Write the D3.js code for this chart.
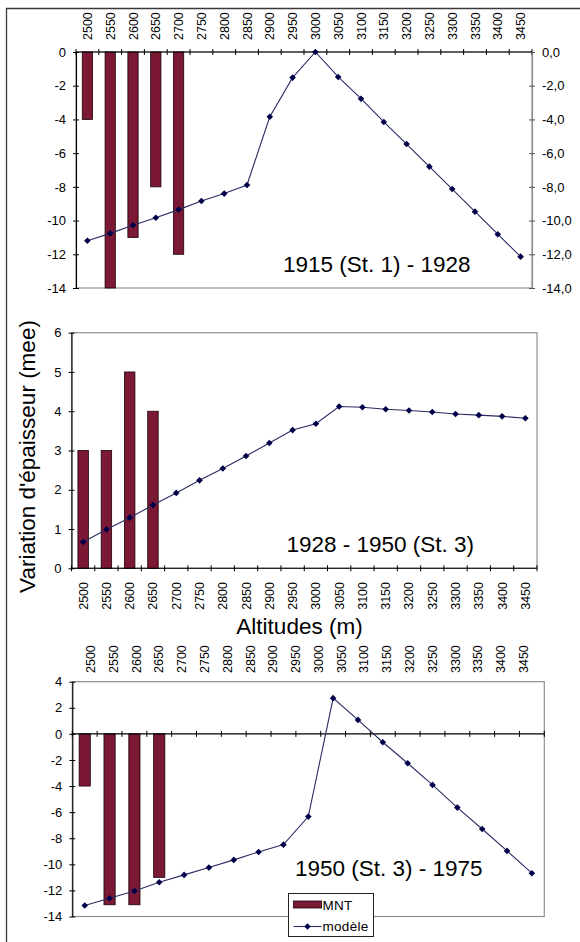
<!DOCTYPE html>
<html><head><meta charset="utf-8">
<script src="https://cdn.jsdelivr.net/npm/d3@7"></script>
<style>
body{margin:0;background:#fff}
svg{display:block}
text{font-family:Arial,"Liberation Sans",sans-serif;fill:#000}
</style>
</head><body>
<svg id="c" width="580" height="942"></svg>
<script>
// ---------- DATA ----------
const altitudes = ["2500","2550","2600","2650","2700","2750","2800","2850","2900","2950",
                   "3000","3050","3100","3150","3200","3250","3300","3350","3400","3450"];

// Panel 1 : 1915 (St. 1) - 1928
const mnt1    = [-4, -14, -11, -8, -12];
const modele1 = [-11.2, -10.76, -10.28, -9.83, -9.35, -8.84, -8.4, -7.89, -3.84, -1.52,
                 0, -1.48, -2.77, -4.15, -5.46, -6.8, -8.13, -9.47, -10.81, -12.14];
const yTicks1 = [0, -2, -4, -6, -8, -10, -12, -14];

// Panel 2 : 1928 - 1950 (St. 3)
const mnt2    = [3, 3, 5, 4];
const modele2 = [0.67, 0.99, 1.29, 1.61, 1.92, 2.24, 2.54, 2.86, 3.19, 3.52,
                 3.68, 4.12, 4.10, 4.05, 4.02, 3.98, 3.93, 3.90, 3.87, 3.82];
const yTicks2 = [0, 1, 2, 3, 4, 5, 6];

// Panel 3 : 1950 (St. 3) - 1975
const mnt3    = [-4, -13.1, -13.1, -11];
const modele3 = [-13.16, -12.6, -12.04, -11.37, -10.81, -10.25, -9.66, -9.05, -8.49, -6.34,
                 2.74, 1.07, -0.64, -2.25, -3.91, -5.65, -7.29, -8.97, -10.68];
const yTicks3 = [4, 2, 0, -2, -4, -6, -8, -10, -12, -14];

const titles = ["1915 (St. 1) - 1928", "1928 - 1950 (St. 3)", "1950 (St. 3) - 1975"];
const yTitle = "Variation d'épaisseur (mee)";
const xTitle = "Altitudes (m)";
const legendLabels = ["MNT", "modèle"];

// ---------- STYLE ----------
const BAR = "#7b1834", MARK = "#00004a", LINE = "#2b2b62", GRAY = "#8f8f8f";
const svg = d3.select("#c");
const fr = d3.formatLocale({decimal: ",", thousands: ".", grouping: [3], currency: ["", ""], minus: "-"}).format(".1f");

// outer frame
svg.append("path").attr("d", "M6.5,942V8.5H580").attr("fill", "none").attr("stroke", "#3a3a3a").attr("stroke-width", 1.3);

function diamond(r){ return `M0,${-r}L${r},0L0,${r}L${-r},0Z`; }

function panel(o){
  const g = svg.append("g");
  const cats = altitudes.slice(0, o.model.length);
  const x = d3.scaleBand().domain(cats).range([o.x0, o.x1]);
  const y = d3.scaleLinear().domain(o.yDomain).range([o.yBottom, o.yTop]);
  const y0 = y(0);

  // plot-area border (gray)
  g.append("rect").attr("x", o.x0).attr("y", o.yTop)
    .attr("width", o.x1 - o.x0).attr("height", o.yBottom - o.yTop)
    .attr("fill", "none").attr("stroke", GRAY).attr("stroke-width", 1.2);

  // bars
  const bw = x.bandwidth() * 0.45;
  g.selectAll("rect.bar").data(o.mnt).join("rect").attr("class", "bar")
    .attr("x", (d, i) => x(cats[i]) + x.bandwidth() / 2 - bw / 2)
    .attr("y", d => Math.min(y0, y(d)))
    .attr("width", bw)
    .attr("height", d => Math.abs(y(d) - y0))
    .attr("fill", BAR).attr("stroke", "#1a0008").attr("stroke-width", 0.8);

  // category axis (at zero) with crossing ticks at band edges
  g.append("line").attr("x1", o.x0).attr("x2", o.x1).attr("y1", y0).attr("y2", y0)
    .attr("stroke", "#000").attr("stroke-width", 1.1);
  g.selectAll("line.xt").data(d3.range(cats.length + 1)).join("line").attr("class", "xt")
    .attr("x1", i => o.x0 + i * x.step()).attr("x2", i => o.x0 + i * x.step())
    .attr("y1", y0 - 3).attr("y2", y0 + 3).attr("stroke", "#000");

  // left value axis
  const ya = g.append("g").attr("transform", `translate(${o.x0},0)`)
    .call(d3.axisLeft(y).tickValues(o.yTicks).tickFormat(d => String(d)).tickSize(3).tickSizeOuter(0).tickPadding(7));
  ya.select(".domain").attr("stroke", "#000").attr("stroke-width", 1.1);
  ya.selectAll(".tick line").attr("x1", 3).attr("stroke", "#000");
  ya.selectAll(".tick text").attr("font-size", 13).attr("font-family", null);

  // right axis (panel 1)
  if (o.rightAxis){
    const ra = g.append("g").attr("transform", `translate(${o.x1},0)`)
      .call(d3.axisRight(y).tickValues(o.yTicks).tickFormat(d => fr(d)).tickSize(3).tickSizeOuter(0).tickPadding(7));
    ra.select(".domain").attr("stroke", GRAY).attr("stroke-width", 1.2);
    ra.selectAll(".tick line").attr("x1", -3).attr("stroke", "#555");
    ra.selectAll(".tick text").attr("font-size", 13).attr("font-family", null);
  }

  // category labels (rotated)
  const xl = d3.scaleBand().domain(altitudes).range(o.labRange || [o.x0, o.x1]);
  g.selectAll("text.xl").data(altitudes).join("text").attr("class", "xl")
    .attr("transform", d => `translate(${xl(d) + xl.bandwidth() / 2},${o.labY}) rotate(-90)`)
    .attr("dy", "0.36em")
    .attr("text-anchor", o.labAnchor)
    .attr("font-size", 12.5)
    .text(d => d);

  // model line
  const line = d3.line().x((d, i) => x(cats[i]) + x.bandwidth() / 2).y(d => y(d));
  g.append("path").datum(o.model).attr("d", line)
    .attr("fill", "none").attr("stroke", LINE).attr("stroke-width", 1.1);
  g.selectAll("path.mk").data(o.model).join("path").attr("class", "mk")
    .attr("transform", (d, i) => `translate(${x(cats[i]) + x.bandwidth() / 2},${y(d)})`)
    .attr("d", diamond(3.3)).attr("fill", MARK);

  // period title
  g.append("text").attr("x", o.titleX).attr("y", o.titleY)
    .attr("font-size", 22.5).text(o.title);
  return {x, y};
}

panel({mnt: mnt1, model: modele1, yTicks: yTicks1, yDomain: [-14, 0],
  x0: 76, x1: 532, yTop: 52, yBottom: 288, rightAxis: true,
  labY: 40, labAnchor: "start", title: titles[0], titleX: 283, titleY: 272});

panel({mnt: mnt2, model: modele2, yTicks: yTicks2, yDomain: [0, 6],
  x0: 71.5, x1: 537, yTop: 332.7, yBottom: 568.3,
  labY: 582, labAnchor: "end", title: titles[1], titleX: 286.5, titleY: 552});

panel({mnt: mnt3, model: modele3, yTicks: yTicks3, yDomain: [-14, 4],
  x0: 72.3, x1: 544.3, yTop: 681.7, yBottom: 916.5,
  labY: 673, labAnchor: "start", labRange: [79.3, 534.7],
  title: titles[2], titleX: 295, titleY: 876});

// axis titles
svg.append("text").attr("transform", "translate(35,456.5) rotate(-90)")
  .attr("text-anchor", "middle").attr("font-size", 22.5).text(yTitle);
svg.append("text").attr("x", 299.5).attr("y", 634)
  .attr("text-anchor", "middle").attr("font-size", 22.5).text(xTitle);

// legend
const lg = svg.append("g").attr("transform", "translate(288.5,893.5)");
lg.append("rect").attr("width", 85).attr("height", 43).attr("fill", "#fff").attr("stroke", "#222").attr("stroke-width", 1);
lg.append("rect").attr("x", 5).attr("y", 7.5).attr("width", 28).attr("height", 7)
  .attr("fill", BAR).attr("stroke", "#1a0008").attr("stroke-width", 0.8);
lg.append("text").attr("x", 34).attr("y", 16.5).attr("font-size", 13.5).attr("letter-spacing", 0.3).text(legendLabels[0]);
lg.append("line").attr("x1", 5).attr("x2", 33).attr("y1", 33).attr("y2", 33).attr("stroke", LINE).attr("stroke-width", 1.1);
lg.append("path").attr("transform", "translate(19,33)").attr("d", diamond(3.3)).attr("fill", MARK);
lg.append("text").attr("x", 34).attr("y", 37.5).attr("font-size", 13.5).attr("letter-spacing", 0.3).text(legendLabels[1]);
</script>
</body></html>
